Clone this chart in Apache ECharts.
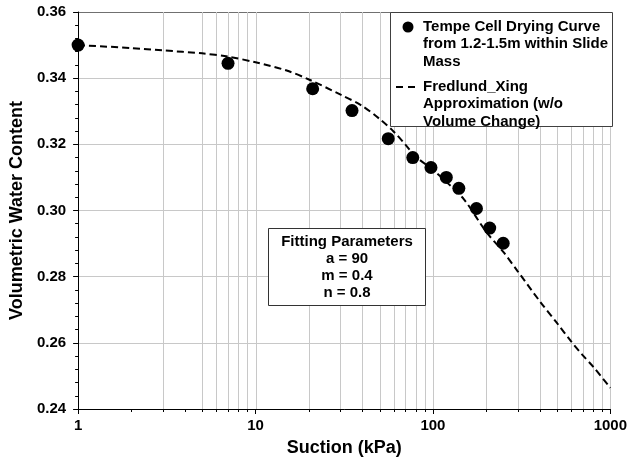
<!DOCTYPE html>
<html>
<head>
<meta charset="utf-8">
<script src="https://cdn.jsdelivr.net/npm/echarts/dist/echarts.min.js"></script>
<style>html,body{margin:0;padding:0;background:#fff;}#chart{width:630px;height:462px;}</style>
</head>
<body>
<div id="chart"></div>
<script>
// ---- data ----
const measuredSuction = [1, 7, 21, 35, 56, 77, 97.5, 119, 140, 176, 209, 249];
const measuredTheta   = [0.3500, 0.3445, 0.3368, 0.3302, 0.3217, 0.3160, 0.3130, 0.3100, 0.3067, 0.3006, 0.2947, 0.2901];

const curveSuction = [1, 2, 3, 5, 7, 10, 15, 20, 30, 40, 50, 60, 70, 80, 100, 120, 150, 200, 250, 300, 400, 500, 600, 700, 800, 1000];
const curveTheta   = [0.3500, 0.3491, 0.3484, 0.3475, 0.3465, 0.3448, 0.3423, 0.3396, 0.3351, 0.3316, 0.3277, 0.3239, 0.3199, 0.3163, 0.3123, 0.3085, 0.3033, 0.2935, 0.2874, 0.2817, 0.2726, 0.2660, 0.2605, 0.2562, 0.2528, 0.2464];

const xTicks = [1, 10, 100, 1000];
const xTickLabels = ['1', '10', '100', '1000'];
const yTicks = ['0.24', '0.26', '0.28', '0.30', '0.32', '0.34', '0.36'];
const gridX = [3, 5, 6, 7, 8, 9, 10, 20, 30, 40, 50, 60, 70, 80, 90, 100, 200, 300, 400, 500, 600, 700, 800, 900, 1000];
const minorTickX = [2, 3, 4, 5, 6, 7, 8, 9, 20, 30, 40, 50, 60, 70, 80, 90, 200, 300, 400, 500, 600, 700, 800, 900];

const legendLabels = ['Tempe Cell Drying Curve\nfrom 1.2-1.5m within Slide\nMass', 'Fredlund_Xing\nApproximation (w/o\nVolume Change)'];
const paramLines = ['Fitting Parameters', 'a = 90', 'm = 0.4', 'n = 0.8'];

// ---- chart ----
const FONT = "'Liberation Sans', Arial, Helvetica, sans-serif";
const Y_MIN = parseFloat(yTicks[0]);
const Y_MAX = parseFloat(yTicks[yTicks.length - 1]);
const X_MIN = xTicks[0];
const X_MAX = xTicks[xTicks.length - 1];

const chart = echarts.init(document.getElementById('chart'), null, { renderer: 'canvas' });

const gridColor = '#c8c8c8';
const GZ = 100;

const option = {
  animation: false,
  textStyle: { fontFamily: FONT },
  grid: { left: 72, right: 17, top: 12, bottom: 52, containLabel: false },
  xAxis: {
    type: 'log', logBase: 10, min: X_MIN, max: X_MAX,
    axisLine: { show: true, lineStyle: { color: '#000', width: 1 } },
    axisTick: { show: true, length: 5, lineStyle: { color: '#000' } },
    axisLabel: {
      fontSize: 15, fontWeight: 'bold', color: '#000', margin: 9, fontFamily: FONT,
      formatter: function (v) { const i = xTicks.indexOf(Math.round(v)); return i >= 0 ? xTickLabels[i] : ''; }
    },
    splitLine: { show: false },
    name: 'Suction (kPa)', nameLocation: 'middle', nameGap: 30,
    nameTextStyle: { fontSize: 18, fontWeight: 'bold', color: '#000', fontFamily: FONT }
  },
  yAxis: {
    type: 'value', min: Y_MIN, max: Y_MAX, interval: 0.02,
    axisLine: { show: true, lineStyle: { color: '#000', width: 1 } },
    axisTick: { show: true, length: 5, lineStyle: { color: '#000' } },
    minorTick: { show: true, splitNumber: 5, length: 3, lineStyle: { color: '#000' } },
    axisLabel: {
      fontSize: 15, fontWeight: 'bold', color: '#000', margin: 12, fontFamily: FONT,
      formatter: function (v) { return yTicks[Math.round((v - Y_MIN) / 0.02)]; }
    },
    splitLine: { show: true, lineStyle: { color: [gridColor, gridColor, gridColor, gridColor, gridColor, gridColor, '#707070'], width: 1 } },
    name: 'Volumetric Water Content', nameLocation: 'middle', nameGap: 43,
    nameTextStyle: { fontSize: 18, fontWeight: 'bold', color: '#000', fontFamily: FONT }
  },
  series: [
    {
      type: 'custom', name: 'gridX', silent: true, z: 1,
      data: gridX.map(v => [v, Y_MIN]),
      encode: { x: 0, y: 1 },
      renderItem: function (params, api) {
        const a = api.coord([api.value(0), Y_MIN]);
        const b = api.coord([api.value(0), Y_MAX]);
        return { type: 'line', shape: { x1: Math.round(a[0]) + 0.5, y1: a[1], x2: Math.round(b[0]) + 0.5, y2: b[1] },
                 style: { stroke: gridColor, lineWidth: 1 } };
      }
    },
    {
      type: 'custom', name: 'minorTicksX', silent: true, z: 3, clip: false,
      data: minorTickX.map(v => [v, Y_MIN]),
      encode: { x: 0, y: 1 },
      renderItem: function (params, api) {
        const a = api.coord([api.value(0), Y_MIN]);
        return { type: 'line', shape: { x1: Math.round(a[0]) + 0.5, y1: a[1], x2: Math.round(a[0]) + 0.5, y2: a[1] + 3 },
                 style: { stroke: '#000', lineWidth: 1 } };
      }
    },
    {
      type: 'line', name: 'Fredlund_Xing', z: 4,
      data: curveSuction.map((s, i) => [s, curveTheta[i]]),
      showSymbol: false, smooth: 0.3,
      lineStyle: { color: '#000', width: 2, type: [7, 4] }
    },
    {
      type: 'scatter', name: 'Tempe Cell', z: 5,
      data: measuredSuction.map((s, i) => [s, measuredTheta[i]]),
      symbol: 'circle', symbolSize: 13,
      itemStyle: { color: '#000', opacity: 1 }
    }
  ],
  graphic: [
    { type: 'rect', z: GZ, shape: { x: 390.5, y: 12.5, width: 222, height: 114 }, style: { fill: '#fff', stroke: '#404040', lineWidth: 1 } },
    { type: 'circle', z: GZ + 1, shape: { cx: 408, cy: 27, r: 5.5 }, style: { fill: '#000' } },
    { type: 'text', z: GZ + 1, x: 423, y: 18, style: { text: legendLabels[0], font: 'bold 15px ' + FONT, fill: '#000', lineHeight: 17.5 } },
    { type: 'line', z: GZ + 1, shape: { x1: 396, y1: 87, x2: 403, y2: 87 }, style: { stroke: '#000', lineWidth: 2 } },
    { type: 'line', z: GZ + 1, shape: { x1: 408, y1: 87, x2: 415, y2: 87 }, style: { stroke: '#000', lineWidth: 2 } },
    { type: 'text', z: GZ + 1, x: 423, y: 78, style: { text: legendLabels[1], font: 'bold 15px ' + FONT, fill: '#000', lineHeight: 17.5 } },
    { type: 'rect', z: GZ, shape: { x: 268.5, y: 228.5, width: 157, height: 77 }, style: { fill: '#fff', stroke: '#333', lineWidth: 1 } },
    { type: 'text', z: GZ + 1, x: 347, y: 233, style: { text: paramLines.join('\n'), font: 'bold 15px ' + FONT, fill: '#000', align: 'center', lineHeight: 17 } }
  ]
};
chart.setOption(option);
</script>
</body>
</html>
